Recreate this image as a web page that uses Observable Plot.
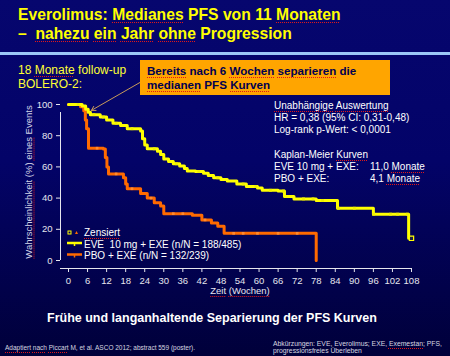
<!DOCTYPE html>
<html>
<head>
<meta charset="utf-8">
<script src="https://cdn.jsdelivr.net/npm/d3@7"></script>
<script src="https://cdn.jsdelivr.net/npm/@observablehq/plot@0.6"></script>
<style>
  html, body { margin: 0; padding: 0; }
  #root { position: relative; width: 450px; height: 356px; overflow: hidden;
    background: linear-gradient(180deg, #06066e 0%, #030368 45%, #00003a 100%);
    font-family: "Liberation Sans", Arial, sans-serif; }
  .a { position: absolute; white-space: nowrap; }
  .sq { text-decoration: underline dotted #e01818; text-decoration-thickness: 1px; text-underline-offset: 1.5px; text-decoration-skip-ink: none; }
  #chart { position: absolute; left: 0; top: 0; }
</style>
</head>
<body>
<div id="root">
  <div id="chart"></div>
  <div class="a" style="left:0;top:52px;width:450px;height:3px;background:#9cc8f8"></div>
  <div class="a" style="left:18px;top:6px;font-size:15.7px;line-height:18.5px;font-weight:bold;color:#ffff00">
    Everolimus: <span class="sq">Medianes</span> PFS von 11 <span class="sq">Monaten</span><br>
    –&nbsp; <span class="sq">nahezu</span> <span class="sq">ein</span> <span class="sq">Jahr</span> <span class="sq">ohne</span> Progression
  </div>
  <div class="a" style="left:18px;top:64px;font-size:12px;line-height:13.5px;color:#ffff33">
    18 <span class="sq">Monate</span> follow-up<br>BOLERO-2:
  </div>
  <div class="a" style="left:140px;top:60px;width:250px;height:35px;background:#ffa500"></div>
  <div class="a" style="left:147px;top:64px;font-size:11.6px;line-height:13.5px;font-weight:bold;color:#000050">
    <span class="sq">Bereits</span> nach 6 <span class="sq">Wochen</span> <span class="sq">separieren</span> die<br><span class="sq">medianen</span> PFS <span class="sq">Kurven</span>
  </div>
  <div class="a" style="left:274px;top:99.7px;font-size:10px;line-height:12.3px;color:#ffffff">
    <span class="sq">Unabhängige</span> <span class="sq">Auswertung</span><br>
    HR = 0,38 (95% CI: 0,31-0,48)<br>
    Log-rank p-Wert: &lt; 0,0001<br>
    &nbsp;<br>
    Kaplan-Meier <span class="sq">Kurven</span><br>
    EVE 10 mg + EXE:<br>
    PBO + EXE:
  </div>
  <div class="a" style="left:370px;top:161.2px;font-size:10px;line-height:12.3px;color:#ffffff">
    11,0 <span class="sq">Monate</span><br>4,1 <span class="sq">Monate</span>
  </div>
  <!-- legend -->
  <svg class="a" style="left:60px;top:226px" width="26" height="36">
    <rect x="8" y="5" width="3" height="3" fill="none" stroke="#ffff00" stroke-width="1"/>
    <path d="M15,8 L16.5,5 L18,8 Z" fill="#ff6a00"/>
    <line x1="7" x2="22" y1="17" y2="17" stroke="#ffff00" stroke-width="2.5"/>
    <line x1="14.5" x2="14.5" y1="17" y2="20" stroke="#ffff00" stroke-width="1.5"/>
    <line x1="7" x2="22" y1="28.5" y2="28.5" stroke="#ff6a00" stroke-width="2.5"/>
    <line x1="14.5" x2="14.5" y1="28.5" y2="31.5" stroke="#ff6a00" stroke-width="1.5"/>
  </svg>
  <div class="a" style="left:84px;top:227px;font-size:10px;line-height:11.5px;color:#ffffff">
    <span class="sq">Zensiert</span><br>
    EVE&nbsp; 10 mg + EXE (n/N = 188/485)<br>
    PBO + EXE (n/N = 132/239)
  </div>
  <div class="a" style="left:28px;top:182px;font-size:9.5px;line-height:11px;color:#d4d4e6;transform:translate(-50%,-50%) rotate(-90deg)">
    <span class="sq">Wahrscheinlichkeit</span> (%) <span class="sq">eines</span> Events
  </div>
  <div class="a" style="left:240px;top:284.5px;font-size:9.5px;line-height:11px;color:#e6e6ee;transform:translateX(-50%)">
    <span class="sq">Zeit</span> <span class="sq">(Wochen)</span>
  </div>
  <div class="a" style="left:47px;top:311px;font-size:12.5px;line-height:14px;font-weight:bold;color:#ffffff">
    Frühe und langanhaltende Separierung der PFS Kurven
  </div>
  <div class="a" style="left:5px;top:344px;font-size:6.5px;line-height:8px;color:#d8d8e0">
    <span class="sq">Adaptiert</span> <span class="sq">nach</span> <span class="sq">Piccart</span> M, et al. ASCO 2012; abstract 559 (poster).
  </div>
  <div class="a" style="left:273px;top:339.5px;font-size:6.8px;line-height:7px;color:#d8d8e0">
    Abkürzungen: EVE, Everolimus; EXE, <span class="sq">Exemestan</span>; PFS,<br>progressionsfreies Überleben
  </div>
</div>
<script>
// ---- data ----
const eveWeeks = [0, 4.3, 5.4, 6.2, 6.9, 10, 12, 14, 16.4, 18.5, 22.7, 23.3, 24, 24.8, 28, 29, 30, 31.5, 33, 35, 36.5, 37.4, 40, 42.5, 44, 45.7, 48, 50, 53, 56, 59.5, 61, 66, 68, 71, 78, 84.7, 96, 107.1, 108];
const evePct   = [100, 99, 97, 95, 93.5, 92, 90, 88, 86.5, 84.5, 83, 78, 74, 71.6, 70, 68, 65, 63.5, 62, 60.6, 59, 57.4, 57, 56, 54.5, 53, 52, 51, 49, 47.5, 46.5, 45, 44.5, 41, 39.5, 38.5, 33.5, 29.7, 14.2, 14.2];
const pboWeeks = [0, 3.8, 4.8, 5.3, 5.7, 6.3, 11, 11.6, 12.1, 12.6, 17.3, 18, 18.5, 22.7, 24.8, 27, 29, 30, 39, 42, 45, 47, 49, 78];
const pboPct   = [100, 98.5, 96, 90, 84.5, 72, 71.5, 66, 60, 55.5, 53, 49, 46, 43, 40, 37, 35, 30, 29, 26, 24, 22, 17.4, 0];
const eveCensorWeeks = [3, 8, 11, 15, 20, 27, 34, 41, 47, 55, 59, 63.6, 67.7, 74, 77, 80, 85, 90, 96, 101.4, 103.6, 106.7];
const pboCensorWeeks = [2, 9, 15, 20, 26, 33, 36, 43, 52, 55, 59.5, 66, 72];
const eveLastCensorWeek = [108];
const xTicks = [0, 6, 12, 18, 24, 30, 36, 42, 48, 54, 60, 66, 72, 78, 84, 90, 96, 102, 108];
const xTickLabels = ["0", "6", "12", "18", "24", "30", "36", "42", "48", "54", "60", "66", "72", "78", "84", "90", "96", "102", "108"];
const yTicks = [0, 20, 40, 60, 80, 100];
const yTickLabels = ["0", "20", "40", "60", "80", "100"];
// annotation arrow (data coordinates: week, percent)
const arrowWeeks = [23.6, 7.2];
const arrowPct = [115.4, 96.2];

// ---- build tables ----
const eve = eveWeeks.map((w, i) => ({week: w, pct: evePct[i]}));
const pbo = pboWeeks.map((w, i) => ({week: w, pct: pboPct[i]}));
function stepAt(weeks, pct, t) {
  let v = pct[0];
  for (let i = 0; i < weeks.length; i++) if (weeks[i] <= t) v = pct[i];
  return v;
}
const eveCensor = eveCensorWeeks.map(t => ({week: t, pct: stepAt(eveWeeks, evePct, t)}));
const pboCensor = pboCensorWeeks.map(t => ({week: t, pct: stepAt(pboWeeks, pboPct, t)}));
const eveLast = eveLastCensorWeek.map(t => ({week: t, pct: stepAt(eveWeeks, evePct, t)}));
const arrow = [{x1: arrowWeeks[0], y1: arrowPct[0], x2: arrowWeeks[1], y2: arrowPct[1]}];

const axisColor = "#e6e6ee";
const chart = Plot.plot({
  width: 450, height: 356,
  marginLeft: 68, marginRight: 39, marginTop: 104, marginBottom: 96,
  style: {background: "transparent", color: axisColor, fontFamily: "'Liberation Sans', Arial, sans-serif", fontSize: "9.5px", overflow: "visible"},
  x: {domain: [0, 108]},
  y: {domain: [0, 100]},
  marks: [
    Plot.ruleX([0], {y1: 0, y2: 100, dx: -8, insetBottom: -8, stroke: axisColor}),
    Plot.ruleY([0], {x1: 0, x2: 108, dy: 8, insetLeft: -8, stroke: axisColor}),
    Plot.axisX({ticks: xTicks, tickFormat: d => xTickLabels[xTicks.indexOf(d)], dy: 8, tickSize: 4, tickPadding: 4.5, label: null, stroke: axisColor, fill: axisColor}),
    Plot.axisY({ticks: yTicks, tickFormat: d => yTickLabels[yTicks.indexOf(d)], dx: -8, tickSize: 4, tickPadding: 4, label: null, stroke: axisColor, fill: axisColor}),
    Plot.line(pbo, {x: "week", y: "pct", curve: "step-after", stroke: "#ff6a00", strokeWidth: 3}),
    Plot.dot(pboCensor, {x: "week", y: "pct", symbol: "square", r: 1.5, fill: "#ff8a30"}),
    Plot.line(eve, {x: "week", y: "pct", curve: "step-after", stroke: "#ffff00", strokeWidth: 3}),
    Plot.dot(eveCensor, {x: "week", y: "pct", symbol: "square", r: 1.6, fill: "#f0f000"}),
    Plot.dot(eveLast, {x: "week", y: "pct", symbol: "square", r: 2.4, fill: "#202040", stroke: "#ffff00", strokeWidth: 1.2}),
    Plot.arrow(arrow, {x1: "x1", y1: "y1", x2: "x2", y2: "y2", stroke: "#c89a5a", strokeWidth: 1, headLength: 7})
  ]
});
document.getElementById("chart").appendChild(chart);
</script>
</body>
</html>
